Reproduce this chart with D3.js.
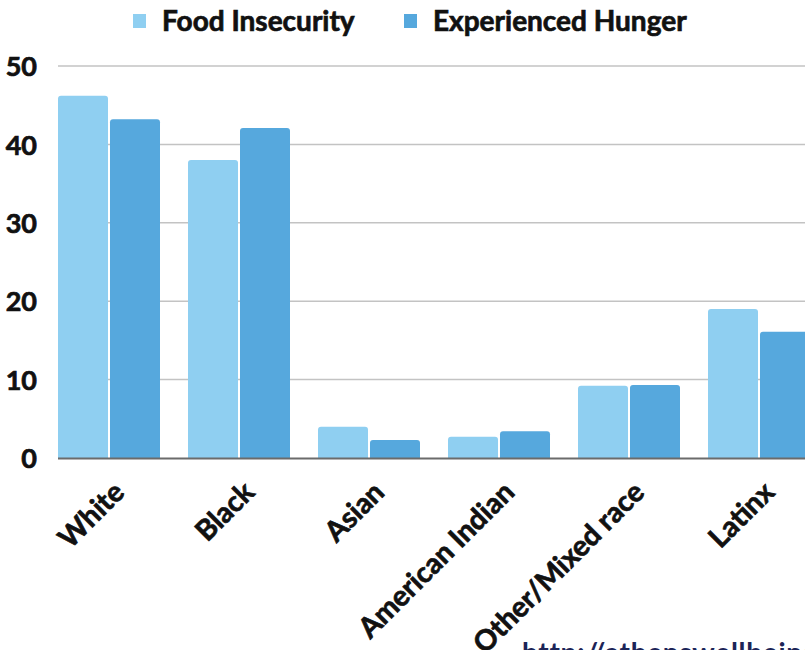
<!DOCTYPE html>
<html>
<head>
<meta charset="utf-8">
<script src="https://cdn.jsdelivr.net/npm/d3@7"></script>
<style>
  html, body { margin: 0; padding: 0; background: #fff; overflow: hidden; }
  svg { display: block; font-family: Lato, "Open Sans", sans-serif; }
  .heavy { font-family: Lato, sans-serif; font-weight: 700; fill: #111; stroke: #111; stroke-width: 0.7px; paint-order: stroke; }
</style>
</head>
<body>
<svg id="chart" width="805" height="650"></svg>
<script>
// Share of respondents (%) by race / ethnicity
const categories = ["White", "Black", "Asian", "American Indian", "Other/Mixed race", "Latinx"];
const seriesNames = ["Food Insecurity", "Experienced Hunger"];
const foodInsecurity = [46.2, 38.0, 4.0, 2.7, 9.2, 19.0];
const experiencedHunger = [43.2, 42.1, 2.3, 3.4, 9.3, 16.1];
const yTicks = [0, 10, 20, 30, 40, 50];
const colors = ["#8fcff1", "#56a8dd"];
const sourceText = "http://athenswellbeingproject.org";

const svg = d3.select("#chart");
const plotLeft = 58, plotTop = 66, plotBottom = 458;

const y = d3.scaleLinear().domain([0, 50]).range([plotBottom, plotTop]);
const x0 = d3.scaleBand().domain(categories).range([plotLeft, plotLeft + 6 * 130 - 28])
  .paddingInner(28 / 130).paddingOuter(0);
const x1 = d3.scaleBand().domain(seriesNames).range([0, x0.bandwidth()])
  .paddingInner(2 / 52).paddingOuter(0);
const color = d3.scaleOrdinal().domain(seriesNames).range(colors);

// gridlines
svg.append("g").selectAll("line").data(yTicks.filter(d => d > 0)).join("line")
  .attr("x1", plotLeft).attr("x2", 805)
  .attr("y1", d => y(d)).attr("y2", d => y(d))
  .attr("stroke", "#c3c3c3").attr("stroke-width", 1.5);

// y axis labels
const yAxis = d3.axisLeft(y).tickValues(yTicks).tickSize(0).tickPadding(0);
const yg = svg.append("g").attr("transform", `translate(37,0)`).call(yAxis);
yg.select(".domain").remove();
yg.selectAll("text")
  .attr("class", "heavy").attr("font-size", 27).attr("dy", "0.36em");

// bars
const rows = categories.map((c, i) => ({ cat: c, values: [foodInsecurity[i], experiencedHunger[i]] }));
const radius = 3;
function barPath(x, w, v) {
  const yt = y(v), yb = y(0);
  const rr = Math.min(radius, (yb - yt));
  return `M${x},${yb}V${yt + rr}Q${x},${yt} ${x + rr},${yt}H${x + w - rr}Q${x + w},${yt} ${x + w},${yt + rr}V${yb}Z`;
}
svg.append("g").selectAll("g").data(rows).join("g")
  .attr("transform", d => `translate(${x0(d.cat)},0)`)
  .selectAll("path").data(d => d.values.map((v, j) => ({ name: seriesNames[j], v })))
  .join("path")
  .attr("d", d => barPath(x1(d.name), x1.bandwidth(), d.v))
  .attr("fill", d => color(d.name));

// baseline
svg.append("line").attr("x1", plotLeft).attr("x2", 805)
  .attr("y1", plotBottom + 0.5).attr("y2", plotBottom + 0.5)
  .attr("stroke", "#6b6b6b").attr("stroke-width", 2);

// x axis labels, rotated
const xg = svg.append("g").attr("transform", `translate(0,${plotBottom})`)
  .call(d3.axisBottom(x0).tickSize(0).tickPadding(0));
xg.select(".domain").remove();
xg.selectAll("text")
  .attr("class", "heavy").attr("font-size", 28.5)
  .attr("text-anchor", "end")
  .attr("dy", null).attr("y", 0)
  .attr("transform", "translate(17,36) rotate(-45)");

// legend
const legend = svg.append("g");
const legendPos = [133, 404];
seriesNames.forEach((n, i) => {
  const g = legend.append("g").attr("transform", `translate(${legendPos[i]},0)`);
  g.append("rect").attr("x", 0).attr("y", 14).attr("width", 13).attr("height", 14)
    .attr("fill", color(n));
  g.append("text").attr("x", 29).attr("y", 31).text(n)
    .attr("class", "heavy").attr("font-size", 28);
});

// source link
svg.append("text").attr("x", 522).attr("y", 663).text(sourceText)
  .attr("font-family", "Lato, sans-serif").attr("font-weight", 700)
  .attr("font-size", 28).attr("letter-spacing", 0.7).attr("fill", "#1c2457");
</script>
</body>
</html>
